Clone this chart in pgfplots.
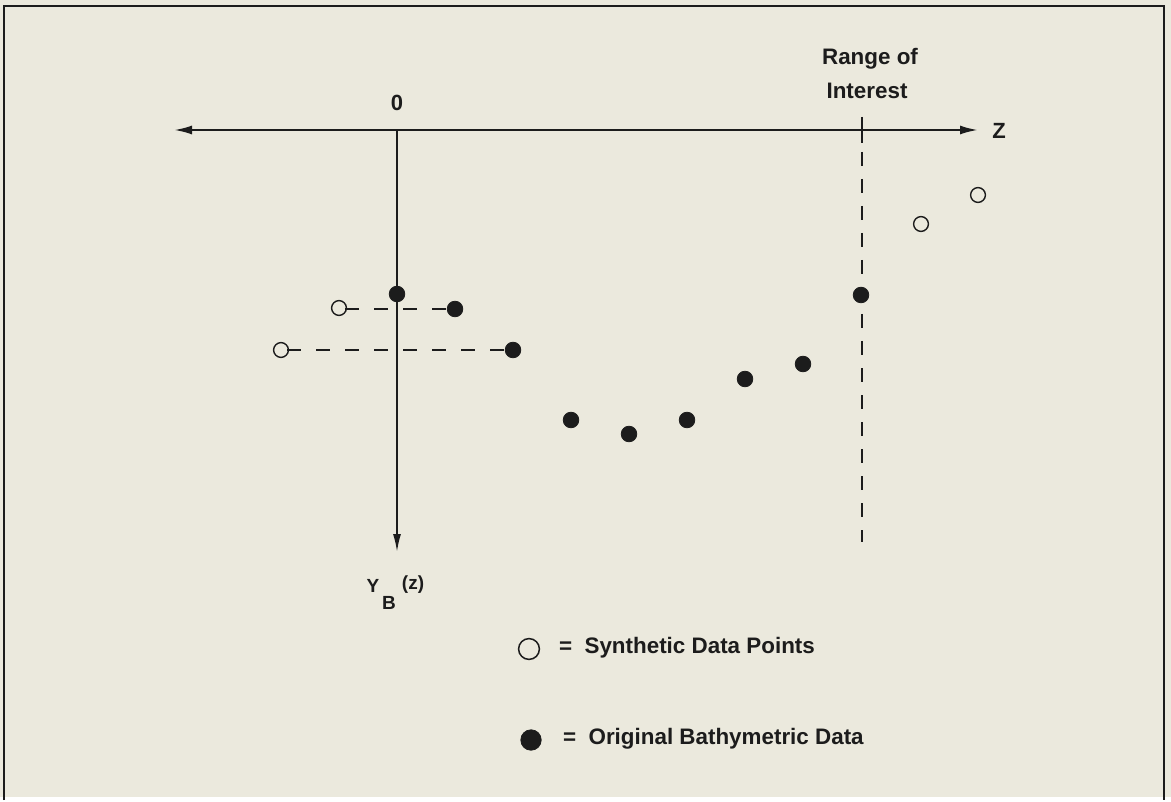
\documentclass[border=0pt]{standalone}
\usepackage{fontspec}
\setmainfont{Liberation Sans}
\usepackage{pgfplots}
\pgfplotsset{compat=1.18}
\usetikzlibrary{arrows.meta}
\definecolor{paper}{HTML}{EBE9DD}
\definecolor{ink}{HTML}{1C1C1C}

\begin{document}
\begin{tikzpicture}
\begin{axis}[
  x=0.5pt, y=0.5pt, y dir=reverse,
  xmin=0, xmax=1171, ymin=0, ymax=797,
  hide axis, clip=false, scale only axis,
  every axis plot/.append style={ink},
]
% paper and frame
\fill[paper] (axis cs:0,0) rectangle (axis cs:1171,797);
\addplot[ink, line width=1.2pt] coordinates {(4,800) (4,6) (1164,6) (1164,800)};

% axes
\addplot[ink, line width=1.1pt, {Latex[length=9pt,width=4.5pt]}-{Latex[length=9pt,width=4.5pt]}]
  coordinates {(174,130) (978,130)};
\addplot[ink, line width=0.9pt, -{Latex[length=9pt,width=4pt]}]
  coordinates {(397,130) (397,552)};

% range of interest
\addplot[ink, line width=1.2pt] coordinates {(862,117) (862,143)};
\addplot[ink, line width=1.2pt, dash pattern=on 7pt off 6.5pt] coordinates {(862,152) (862,542)};

% projection lines
\addplot[ink, line width=1pt, dash pattern=on 7pt off 7.5pt, dash phase=-3pt] coordinates {(339,309) (455,309)};
\addplot[ink, line width=1pt, dash pattern=on 7pt off 7.5pt, dash phase=-3pt] coordinates {(281,350) (513,350)};

% original bathymetric data
\addplot[only marks, mark=*, mark size=3.9pt, mark options={fill=ink, draw=ink}] coordinates {
  (397,294) (455,309) (513,350) (571,420) (629,434) (687,420) (745,379) (803,364) (861,295)
};
% synthetic data points
\addplot[only marks, mark=o, mark size=3.7pt, mark options={fill=paper, draw=ink, line width=0.7pt}] coordinates {
  (339,308) (281,350) (921,224) (978,195)
};

% legend markers
\addplot[only marks, mark=o, mark size=5.2pt, mark options={fill=paper, draw=ink, line width=0.75pt}] coordinates {(529,649)};
\addplot[only marks, mark=*, mark size=5.1pt, mark options={fill=ink, draw=ink}] coordinates {(531,740)};

% labels
\node[ink, font=\bfseries\fontsize{11}{13}\selectfont] at (axis cs:397,103) {0};
\node[ink, font=\bfseries\fontsize{11}{13}\selectfont] at (axis cs:999,131) {Z};
\node[ink, font=\bfseries\fontsize{11.2}{13}\selectfont] at (axis cs:870,59) {Range of};
\node[ink, font=\bfseries\fontsize{11.2}{13}\selectfont] at (axis cs:867,91) {Interest};
\node[ink, font=\bfseries\fontsize{9.5}{11}\selectfont] at (axis cs:373,586) {Y};
\node[ink, font=\bfseries\fontsize{9.5}{11}\selectfont] at (axis cs:389,603) {B};
\node[ink, font=\bfseries\fontsize{9.5}{11}\selectfont] at (axis cs:413,585) {(z)};
\node[ink, font=\bfseries\fontsize{11.2}{13}\selectfont, anchor=west] at (axis cs:552,648) {=\ \ Synthetic Data Points};
\node[ink, font=\bfseries\fontsize{11.2}{13}\selectfont, anchor=west] at (axis cs:556,739) {=\ \ Original Bathymetric Data};
\end{axis}
\end{tikzpicture}
\end{document}
